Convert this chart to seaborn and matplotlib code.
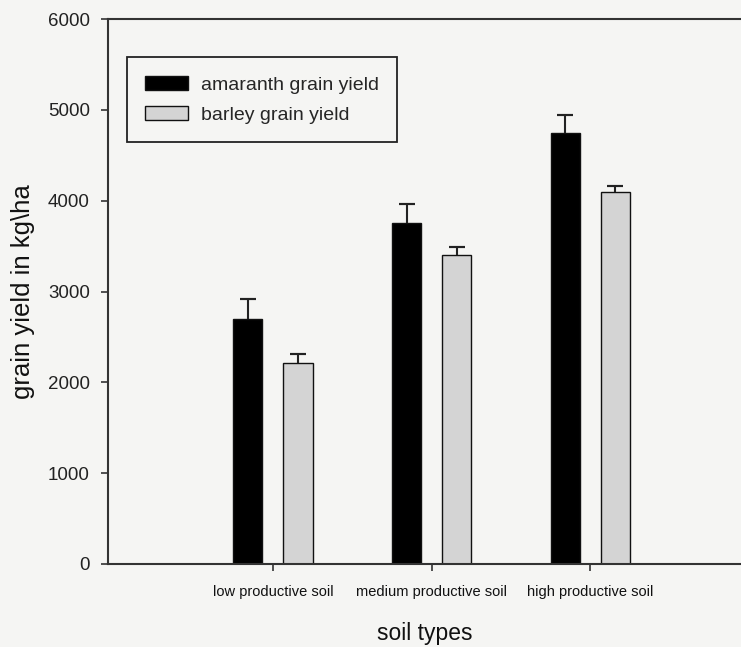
import matplotlib
matplotlib.use("Agg")
import matplotlib.pyplot as plt
import seaborn as sns
import pandas as pd

# Mean grain yields (kg/ha) and their standard errors per soil class
soil_types = ["low productive soil", "medium productive soil", "high productive soil"]
crops = ["amaranth grain yield", "barley grain yield"]
amaranth_yield = [2700, 3750, 4750]
barley_yield = [2210, 3400, 4100]
amaranth_err = [220, 210, 190]
barley_err = [100, 90, 60]
y_ticks = [0, 1000, 2000, 3000, 4000, 5000, 6000]

df = pd.DataFrame({
    "soil": soil_types * 2,
    "crop": [crops[0]] * 3 + [crops[1]] * 3,
    "yield": amaranth_yield + barley_yield,
})
errors = {crops[0]: amaranth_err, crops[1]: barley_err}

sns.set_style("ticks")
plt.rcParams["font.family"] = ["Liberation Sans", "DejaVu Sans"]

bg = "#f5f5f3"
fig = plt.figure(figsize=(7.41, 6.47), dpi=100, facecolor=bg)
ax = fig.add_axes([0.1457, 0.1283, 0.8543, 0.8423])
ax.set_facecolor(bg)

sns.barplot(
    data=df, x="soil", y="yield", hue="crop",
    order=soil_types, hue_order=crops,
    palette={crops[0]: "black", crops[1]: "#d4d4d4"},
    saturation=1, width=0.632, gap=0.42,
    edgecolor="#111111", linewidth=1.0, errorbar=None, ax=ax,
)

# upward-only error bars: a stem from the bar top and a cap at the end
for container, crop in zip(ax.containers, crops):
    xs = [b.get_x() + b.get_width() / 2 for b in container]
    hs = [b.get_height() for b in container]
    tops = [h + e for h, e in zip(hs, errors[crop])]
    ax.vlines(xs, hs, tops, colors="#222222", linewidth=1.5, zorder=1)
    ax.errorbar(xs, tops, yerr=0, fmt="none", ecolor="#222222",
                capsize=6, capthick=1.5, elinewidth=0, zorder=1)

ax.set_ylim(0, 6000)
ax.set_xlim(-1.04, 2.95)
ax.set_yticks(y_ticks)
ax.set_yticklabels([str(v) for v in y_ticks], fontsize=13.5, color="#222222")
ax.tick_params(axis="y", direction="out", length=5, width=1.2,
               color="#333333", pad=8)
ax.tick_params(axis="x", direction="out", length=5, width=1.2,
               color="#333333", pad=10, labelsize=10.5, labelcolor="#111111")

for side in ("left", "top", "bottom"):
    ax.spines[side].set_visible(True)
    ax.spines[side].set_color("#333333")
    ax.spines[side].set_linewidth(1.5)
ax.spines["right"].set_visible(False)

ax.set_xlabel("soil types", fontsize=16.5, color="#111111", labelpad=17)
ax.set_ylabel("grain yield in kg\\ha", fontsize=18.5, color="#111111", labelpad=9)

handles, labels = ax.get_legend_handles_labels()
leg = ax.legend(handles[:2], labels[:2], loc="upper left",
                bbox_to_anchor=(0.030, 0.930), borderaxespad=0,
                fontsize=14, frameon=True, fancybox=False,
                handlelength=2.2, handleheight=0.78, handletextpad=0.65,
                borderpad=0.95, labelspacing=0.62)
leg.get_frame().set_edgecolor("#222222")
leg.get_frame().set_linewidth(1.3)
leg.get_frame().set_facecolor(bg)
leg.get_frame().set_alpha(1)

fig.savefig("out.png", dpi=100, facecolor=bg)
